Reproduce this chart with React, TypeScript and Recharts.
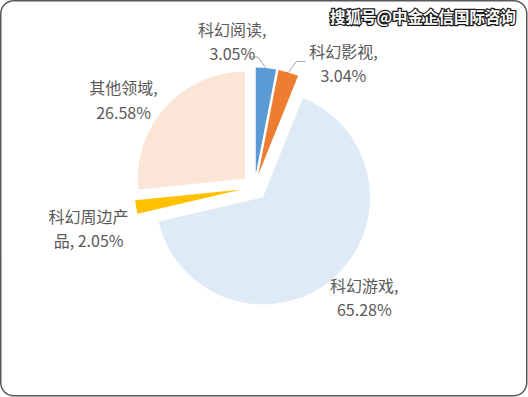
import React from "react";
import { PieChart, Pie, Cell, Sector } from "recharts";

const W = 528;
const H = 397;
const TEXT = "#595959";
const FONT = "'Noto Sans CJK SC', 'Noto Sans', sans-serif";

// ── data (clockwise from 12 o'clock) ─────────────────────────────────────────
const categories = ["科幻阅读", "科幻影视", "科幻游戏", "科幻周边产品", "其他领域"];
const shares = [3.05, 3.04, 65.28, 2.05, 26.58];
const colors = ["#5B9BD5", "#ED7D31", "#DEEAF6", "#FFC000", "#FBE5D7"];

const data = categories.map((name, i) => ({ name, value: shares[i] }));

// explode distance and label nudges (Excel moved a few labels around)
const EXPLODE = 13;
const LABEL_DIST = 48;
const NUDGE: Record<string, [number, number]> = {
  科幻阅读: [-37, 8],
  科幻影视: [45, 24],
  科幻游戏: [9, -8],
  科幻周边产品: [-13, 15],
  其他领域: [-16, 16],
};

const FS = 16;
const RAD = Math.PI / 180;

// rough text width for wrapping like Excel does
const charW = (c: string) =>
  (/[\u4e00-\u9fff]/.test(c)
    ? 1
    : c === "%"
    ? 0.8
    : c === "." || c === "," || c === " "
    ? 0.27
    : 0.55) * FS;

function wrap(text: string, max: number) {
  const lines: string[] = [];
  let cur = "";
  let w = 0;
  for (const c of text) {
    const cw = charW(c);
    if (w + cw > max && cur.length) {
      const sp = cur.lastIndexOf(" ");
      if (sp > 0) {
        lines.push(cur.slice(0, sp));
        cur = cur.slice(sp + 1);
      } else {
        lines.push(cur);
        cur = "";
      }
      w = [...cur].reduce((s, ch) => s + charW(ch), 0);
    }
    cur += c;
    w += cw;
  }
  if (cur) lines.push(cur.trim());
  return lines;
}

const ExplodedSector = (props: any) => {
  const { cx, cy, midAngle } = props;
  const dx = EXPLODE * Math.cos(-midAngle * RAD);
  const dy = EXPLODE * Math.sin(-midAngle * RAD);
  return <Sector {...props} cx={cx + dx} cy={cy + dy} stroke="none" />;
};

const renderLabel = (props: any) => {
  const { cx, cy, midAngle, outerRadius, name, value } = props;
  const cos = Math.cos(-midAngle * RAD);
  const sin = Math.sin(-midAngle * RAD);
  const [nx, ny] = NUDGE[name] || [0, 0];
  const x = cx + (outerRadius + LABEL_DIST) * cos + nx;
  const y = cy + (outerRadius + LABEL_DIST) * sin + ny;
  const lines = wrap(`${name}, ${value.toFixed(2)}%`, 94);
  const lh = 24.5;

  // leader lines only for the two small slices at the top
  let leader = null;
  if (Math.abs(nx) > 30) {
    const ex = cx + (outerRadius + EXPLODE) * cos;
    const ey = cy + (outerRadius + EXPLODE) * sin;
    const side = nx < 0 ? -1 : 1;
    const kx = ex + side * 8;
    const ky = ey - 11;
    const tx = kx + side * 9;
    leader = (
      <polyline
        points={`${ex},${ey} ${kx},${ky} ${tx},${ky}`}
        fill="none"
        stroke="#A6A6A6"
        strokeWidth={1}
      />
    );
  }

  return (
    <g>
      {leader}
      <text x={x} y={y} textAnchor="middle" fill={TEXT} fontSize={FS} fontFamily={FONT}>
        {lines.map((l, i) => (
          <tspan
            key={i}
            x={x}
            y={y + (i - (lines.length - 1) / 2) * lh}
            dominantBaseline="central"
          >
            {l}
          </tspan>
        ))}
      </text>
    </g>
  );
};

export default function App() {
  return (
    <div
      style={{
        position: "absolute",
        left: 0,
        top: 0,
        width: W,
        height: H,
        background: "#fff",
      }}
    >
      <PieChart width={W} height={H} margin={{ top: 0, right: 0, bottom: 0, left: 0 }}>
        <Pie
          data={data}
          dataKey="value"
          nameKey="name"
          cx={254.5}
          cy={187.5}
          outerRadius={107}
          startAngle={90}
          endAngle={-270}
          shape={ExplodedSector}
          label={renderLabel}
          labelLine={false}
          isAnimationActive={false}
        >
          {data.map((d, i) => (
            <Cell key={d.name} fill={colors[i]} />
          ))}
        </Pie>
      </PieChart>
      <svg
        width={W}
        height={H}
        style={{ position: "absolute", left: 0, top: 0, pointerEvents: "none" }}
      >
        <rect
          x={0.75}
          y={0.75}
          width={W - 2}
          height={H - 2}
          rx={13}
          fill="none"
          stroke="#595959"
          strokeWidth={1.5}
        />
        <text
          x={516}
          y={16}
          textAnchor="end"
          dominantBaseline="central"
          fontSize={15.5}
          fontWeight="bold"
          fontFamily={FONT}
          fill="#fff"
          stroke="#1a1a1a"
          strokeWidth={2.5}
          paintOrder="stroke"
        >
          搜狐号@中金企信国际咨询
        </text>
      </svg>
    </div>
  );
}
